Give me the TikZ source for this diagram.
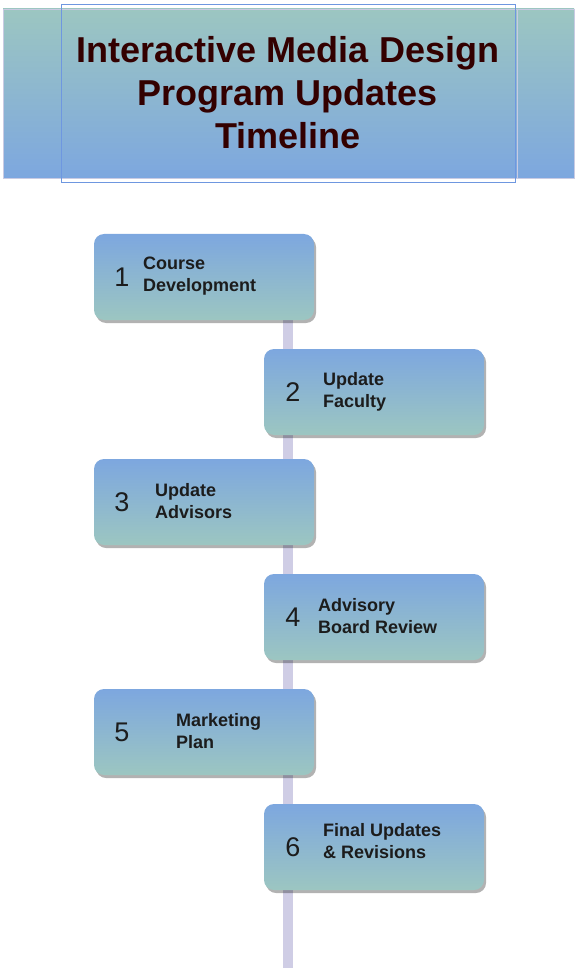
\documentclass[tikz,border=0pt]{standalone}
\usepackage{fontspec}
\setmainfont{Liberation Sans}
\usetikzlibrary{shadows,backgrounds}
\definecolor{tealc}{HTML}{9CC6C1}
\definecolor{bluec}{HTML}{7DA7DF}
\definecolor{titletext}{HTML}{330000}
\definecolor{spine}{HTML}{CFCDE5}
\definecolor{bandedge}{HTML}{C9CBE3}
\definecolor{frameblue}{HTML}{6E97E0}
\definecolor{labeltext}{HTML}{1C1C1C}
\begin{document}
\begin{tikzpicture}[x=1pt,y=-1pt,
  stepbox/.style={rounded corners=10pt, minimum width=220pt, minimum height=86pt,
    inner sep=0pt, top color=bluec, bottom color=tealc,
    drop shadow={shadow xshift=2pt, shadow yshift=-3pt, fill=black, opacity=0.3}},
  numlabel/.style={font=\fontsize{27}{30}\selectfont, text=labeltext, inner sep=0pt},
  steplabel/.style={font=\fontsize{18}{22}\selectfont\bfseries, text=labeltext,
    align=left, anchor=west, inner sep=0pt},
  spineline/.style={draw=spine, line width=10pt},
  band/.style={minimum width=571pt, minimum height=169pt, inner sep=0pt,
    top color=tealc, bottom color=bluec, draw=bandedge, line width=0.8pt},
  titleframe/.style={draw=frameblue, line width=0.8pt, minimum width=454pt,
    minimum height=178pt, inner sep=0pt},
  titletxt/.style={font=\fontsize{36}{43}\selectfont\bfseries, text=titletext, align=center}
]
\useasboundingbox (0,0) rectangle (577,976);

% title band
\node[band] (band) at (288.5,93.5) {};
\draw[bandedge, line width=0.8pt] (61,9) -- (61,178);
\draw[bandedge, line width=0.8pt] (517,9) -- (517,178);
\node[titleframe] (frame) at (288,93) {};
\node[titletxt] (title) at (288,93) {Interactive Media Design\\Program Updates\\Timeline};

% boxes
\node[stepbox] (b1) at (204,277) {};
\node[stepbox] (b2) at (374,392) {};
\node[stepbox] (b3) at (204,502) {};
\node[stepbox] (b4) at (374,617) {};
\node[stepbox] (b5) at (204,732) {};
\node[stepbox] (b6) at (374,847) {};

% spine
\coordinate (spineend) at (288,968);
\begin{scope}[on background layer]
  \draw[spineline] (b1.south -| spineend) -- (spineend);
\end{scope}

% numbers
\node[numlabel] (n1) at (122,277) {1};
\node[numlabel] (n2) at (293,392) {2};
\node[numlabel] (n3) at (122,502) {3};
\node[numlabel] (n4) at (293,617) {4};
\node[numlabel] (n5) at (122,732) {5};
\node[numlabel] (n6) at (293,847) {6};

% labels
\node[steplabel] (l1) at (143,276.5) {Course\\Development};
\node[steplabel] (l2) at (323,391.5) {Update\\Faculty};
\node[steplabel] (l3) at (155,501.5) {Update\\Advisors};
\node[steplabel] (l4) at (318,616.5) {Advisory\\Board Review};
\node[steplabel] (l5) at (176,731.5) {Marketing\\Plan};
\node[steplabel] (l6) at (323,841.5) {Final Updates\\\& Revisions};
\end{tikzpicture}
\end{document}
